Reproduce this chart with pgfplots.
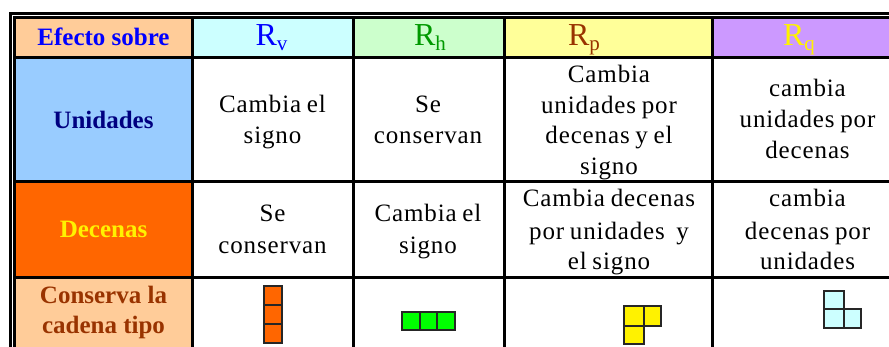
\documentclass[border=0pt]{standalone}
\usepackage{pgfplots}
\pgfplotsset{compat=1.18}
\usepackage{fontspec}
\setmainfont{Liberation Serif}
\newfontfamily\bodyf[LetterSpace=3.5,WordSpace=0.8]{Liberation Serif}
\definecolor{cOr}{HTML}{FFCC99}
\definecolor{cCy}{HTML}{CCFFFF}
\definecolor{cGr}{HTML}{CCFFCC}
\definecolor{cYe}{HTML}{FFFF99}
\definecolor{cVi}{HTML}{CC99FF}
\definecolor{cBl}{HTML}{99CCFF}
\definecolor{cDk}{HTML}{FF6600}
\definecolor{cBr}{HTML}{993300}
\definecolor{cNv}{HTML}{000080}
\definecolor{cGt}{HTML}{009900}
\newcommand{\rect}[5]{\addplot[fill=#1,draw=none,forget plot] coordinates {(#2,#3)(#4,#3)(#4,#5)(#2,#5)} --cycle;}
\newcommand{\sq}[5]{\addplot[fill=#1,draw=black!85,line width=2pt,forget plot] coordinates {(#2,#3)(#4,#3)(#4,#5)(#2,#5)} --cycle;}
\newcommand{\bl}[3]{\node[anchor=base,inner sep=0pt,text=black] at (axis cs:#1,#2) {\fontsize{25}{25}\bodyf #3};}
\newcommand{\hd}[4]{\node[anchor=base,inner sep=0pt,text=#3] at (axis cs:#1,#2) {\fontsize{25}{25}\selectfont\bfseries #4};}
\newcommand{\Rn}[3]{\node[anchor=base,inner sep=0pt,text=#2] at (axis cs:#1,46) {\fontsize{32}{32}\selectfont R\raisebox{-5pt}{\fontsize{21}{21}\selectfont #3}};}
\begin{document}
\begin{tikzpicture}
\begin{axis}[
  scale only axis, width=889pt, height=347pt,
  xmin=0, xmax=889, ymin=0, ymax=347, y dir=reverse,
  hide axis, clip=true]
% page
\rect{white}{0}{0}{889}{347}
% black frame and grid background
\rect{black}{9}{12}{889}{347}
\rect{white}{12}{15}{889}{347}
\rect{black}{13}{16}{889}{347}
% header row
\rect{cOr}{16}{19}{191}{56}
\rect{cCy}{194}{19}{352}{56}
\rect{cGr}{355}{19}{503}{56}
\rect{cYe}{506}{19}{711}{56}
\rect{cVi}{714}{19}{889}{56}
% row 1
\rect{cBl}{16}{59}{191}{180}
\rect{white}{194}{59}{352}{180}
\rect{white}{355}{59}{503}{180}
\rect{white}{506}{59}{711}{180}
\rect{white}{714}{59}{889}{180}
% row 2
\rect{cDk}{16}{183}{191}{276}
\rect{white}{194}{183}{352}{276}
\rect{white}{355}{183}{503}{276}
\rect{white}{506}{183}{711}{276}
\rect{white}{714}{183}{889}{276}
% row 3
\rect{cOr}{16}{279}{191}{347}
\rect{white}{194}{279}{352}{347}
\rect{white}{355}{279}{503}{347}
\rect{white}{506}{279}{711}{347}
\rect{white}{714}{279}{889}{347}
% shapes
\sq{cDk}{263.5}{286.5}{281.5}{305}
\sq{cDk}{263.5}{305}{281.5}{324.5}
\sq{cDk}{263.5}{324.5}{281.5}{343}
\sq{green}{401.5}{312.5}{419.5}{330}
\sq{green}{419.5}{312.5}{437}{330}
\sq{green}{437}{312.5}{455}{330}
\sq{yellow}{624}{306.5}{643.5}{326}
\sq{yellow}{643.5}{306.5}{661}{326}
\sq{yellow}{624}{326}{643.5}{344}
\sq{cCy}{824}{291}{843.5}{309}
\sq{cCy}{824}{309}{843.5}{328}
\sq{cCy}{843.5}{309}{861}{328}
% headers
\hd{103.5}{46}{blue}{Efecto sobre}
\Rn{271.5}{blue}{v}
\Rn{430}{cGt}{h}
\Rn{584}{cBr}{p}
\Rn{799}{yellow}{q}
\hd{103.5}{129}{cNv}{Unidades}
\hd{103.5}{238}{yellow}{Decenas}
\hd{103.5}{304}{cBr}{Conserva la}
\hd{103.5}{334}{cBr}{cadena tipo}
% body
\bl{272.5}{113}{Cambia el}
\bl{272.5}{144}{signo}
\bl{428}{113}{Se}
\bl{428}{144}{conservan}
\bl{609}{83}{Cambia}
\bl{609}{114}{unidades por}
\bl{609}{144}{decenas y el}
\bl{609}{175}{signo}
\bl{807.5}{97}{cambia}
\bl{807.5}{128}{unidades por}
\bl{807.5}{159}{decenas}
\bl{272.5}{222}{Se}
\bl{272.5}{254}{conservan}
\bl{428}{222}{Cambia el}
\bl{428}{254}{signo}
\bl{609}{207}{Cambia decenas}
\bl{609}{240}{por unidades\ \ y}
\bl{609}{270}{el signo}
\bl{807.5}{207}{cambia}
\bl{807.5}{240}{decenas por}
\bl{807.5}{270}{unidades}
\end{axis}
\end{tikzpicture}
\end{document}
